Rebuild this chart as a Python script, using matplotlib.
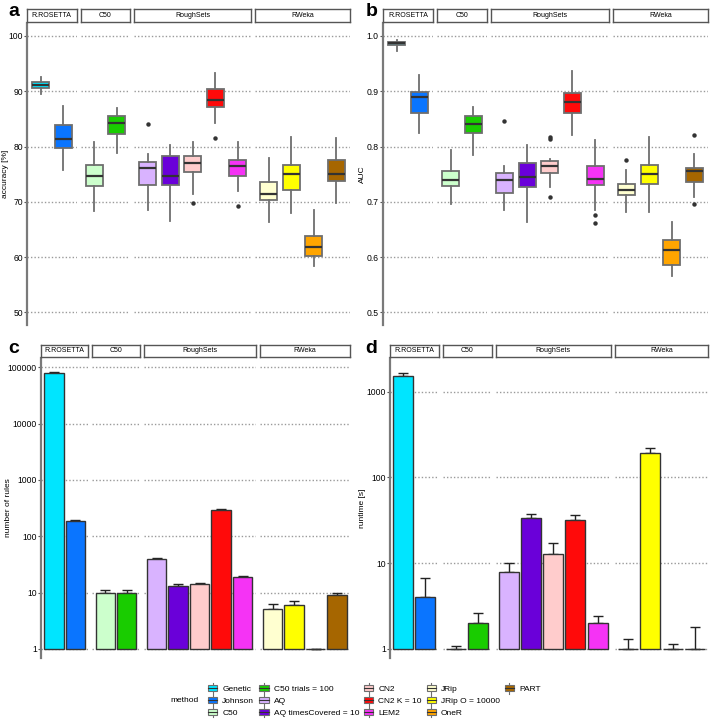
import matplotlib
matplotlib.use("Agg")
import matplotlib.pyplot as plt
from matplotlib.patches import Rectangle, Patch
from matplotlib.lines import Line2D
from matplotlib.legend_handler import HandlerBase
from matplotlib.ticker import FixedLocator, NullLocator

plt.rcParams["font.family"] = ["Liberation Sans", "DejaVu Sans"]

W, H = 712, 721

methods = ["Genetic", "Johnson", "C50", "C50 trials = 100", "AQ", "AQ timesCovered = 10",
           "CN2", "CN2 K = 10", "LEM2", "JRip", "JRip O = 10000", "OneR", "PART"]
colors = ["#00E5FF", "#0A75FF", "#CCFFCC", "#19CC00", "#D9B3FF", "#6A00D9",
          "#FFCCCC", "#FF0A0A", "#F533F5", "#FFFFD0", "#FFFF00", "#FFA500", "#A66600"]
facets = ["R.ROSETTA", "C50", "RoughSets", "RWeka"]
facet_of = [0, 0, 1, 1, 2, 2, 2, 2, 2, 3, 3, 3, 3]

# accuracy [%] box stats
acc_whislo = [89.5, 75.8, 68.4, 78.9, 68.5, 66.5, 71.4, 84.3, 72.0, 66.4, 67.9, 58.4, 69.8]
acc_q1 = [90.6, 79.8, 72.9, 82.3, 73.0, 73.1, 75.4, 87.1, 74.6, 70.3, 72.1, 60.2, 73.8]
acc_med = [91.1, 81.3, 74.7, 84.3, 76.1, 74.7, 77.0, 88.4, 76.4, 71.4, 75.0, 61.9, 75.0]
acc_q3 = [91.7, 83.9, 76.6, 85.5, 77.2, 78.2, 78.2, 90.4, 77.6, 73.5, 76.7, 63.8, 77.5]
acc_whishi = [92.5, 87.3, 80.9, 87.0, 78.6, 80.2, 80.9, 93.3, 80.9, 78.0, 81.7, 68.6, 81.5]
acc_fliers = [[], [], [], [], [84.1], [], [69.8], [81.6], [69.2], [], [], [], []]

# AUC box stats
auc_whislo = [0.973, 0.824, 0.696, 0.785, 0.686, 0.664, 0.726, 0.821, 0.685, 0.682, 0.682, 0.566, 0.709]
auc_q1 = [0.983, 0.861, 0.728, 0.824, 0.715, 0.727, 0.752, 0.861, 0.730, 0.712, 0.732, 0.586, 0.736]
auc_med = [0.987, 0.890, 0.739, 0.841, 0.739, 0.745, 0.765, 0.881, 0.741, 0.721, 0.751, 0.613, 0.755]
auc_q3 = [0.989, 0.899, 0.755, 0.855, 0.752, 0.771, 0.773, 0.897, 0.764, 0.733, 0.767, 0.631, 0.761]
auc_whishi = [0.993, 0.929, 0.793, 0.871, 0.764, 0.803, 0.778, 0.937, 0.811, 0.758, 0.818, 0.664, 0.786]
auc_fliers = [[], [], [], [], [0.847], [], [0.818, 0.813, 0.709], [], [0.676, 0.661],
              [0.776], [], [], [0.821, 0.696]]

# number of rules (mean, upper error end)
rules = [78000, 185, 10, 10, 40, 13, 14, 297, 19.2, 5.06, 5.96, 1, 8.97]
rules_err = [81000, 196, 11, 11, 42, 14, 15, 305, 20, 6.2, 7.0, 1, 9.7]

# runtime [s] (mean, upper error end)
runtime = [1510, 4.0, 1, 2.0, 8.0, 34, 12.9, 31.6, 2.0, 1, 191, 1, 1]
runtime_err = [1660, 6.8, 1.08, 2.6, 10, 38, 17.1, 36.8, 2.45, 1.3, 218, 1.13, 1.79]

EDGE = "#6e6e6e"
GRID = "#9a9a9a"


def fig_axes(fig, left, top, width, height):
    return fig.add_axes([left / W, 1 - (top + height) / H, width / W, height / H])


def make_panel(fig, x0, x1, top, bottom, strip_top, ylim, yticks, ylabels, ylabel, label_x,
               letter, letter_xy, log=False):
    gap = 4
    sizes = [facet_of.count(i) for i in range(len(facets))]
    units = [n + 0.2 for n in sizes]
    unit_px = (x1 - x0 - gap * (len(facets) - 1)) / sum(units)
    axes = []
    x = x0
    for i, name in enumerate(facets):
        w = units[i] * unit_px
        ax = fig_axes(fig, x, top, w, bottom - top)
        if log:
            ax.set_yscale("log")
        ax.set_ylim(*ylim)
        ax.set_xlim(-0.6, sizes[i] - 0.4)
        ax.yaxis.set_major_locator(FixedLocator(yticks))
        ax.yaxis.set_minor_locator(NullLocator())
        ax.set_xticks([])
        for yt in yticks:
            ax.axhline(yt, color=GRID, lw=1.0, ls=(0, (1, 1.5)), zorder=0)
        for s in ["top", "right", "bottom"]:
            ax.spines[s].set_visible(False)
        if i == 0:
            ax.spines["left"].set_color("#7a7a7a")
            ax.spines["left"].set_linewidth(1.6)
            ax.set_yticklabels(ylabels, fontsize=6.2)
            ax.tick_params(axis="y", length=2, width=0.8, color="#555555", pad=1)
        else:
            ax.spines["left"].set_visible(False)
            ax.tick_params(axis="y", left=False, labelleft=False)
        ax.patch.set_alpha(0)
        # strip
        sax = fig_axes(fig, x, strip_top, w, top - strip_top - 1)
        sax.set_xticks([])
        sax.set_yticks([])
        for s in sax.spines.values():
            s.set_color("#555555")
            s.set_linewidth(1.0)
        sax.text(0.5, 0.5, name, ha="center", va="center", fontsize=5, transform=sax.transAxes)
        axes.append(ax)
        x += w + gap
    fig.text(label_x / W, 1 - ((top + bottom) / 2) / H, ylabel, fontsize=6, rotation=90,
             ha="center", va="center")
    fig.text(letter_xy[0] / W, 1 - letter_xy[1] / H, letter, fontsize=14, fontweight="bold",
             ha="left", va="baseline")
    return axes


def draw_boxes(axes, whislo, q1, med, q3, whishi, fliers):
    for f, ax in enumerate(axes):
        idx = [i for i in range(len(methods)) if facet_of[i] == f]
        stats = [dict(whislo=whislo[i], q1=q1[i], med=med[i], q3=q3[i], whishi=whishi[i],
                      fliers=fliers[i]) for i in idx]
        res = ax.bxp(stats, positions=list(range(len(idx))), widths=0.75, patch_artist=True,
                     showcaps=False, manage_ticks=False,
                     boxprops=dict(edgecolor=EDGE, linewidth=1.3),
                     whiskerprops=dict(color=EDGE, linewidth=1.3),
                     medianprops=dict(color="#333333", linewidth=1.6),
                     flierprops=dict(marker="o", markerfacecolor="#333333",
                                     markeredgecolor="none", markersize=3.2))
        for patch, i in zip(res["boxes"], idx):
            patch.set_facecolor(colors[i])


def draw_bars(axes, values, upper):
    for f, ax in enumerate(axes):
        idx = [i for i in range(len(methods)) if facet_of[i] == f]
        pos = list(range(len(idx)))
        vals = [values[i] for i in idx]
        ups = [upper[i] - values[i] for i in idx]
        ax.errorbar(pos, vals, yerr=[[0] * len(idx), ups], fmt="none", ecolor="#222222",
                    elinewidth=1.0, capsize=3.5, capthick=1.0, zorder=1)
        ax.bar(pos, [v - 1 for v in vals], bottom=1, width=0.9,
               color=[colors[i] for i in idx], edgecolor="#333333", linewidth=1.0, zorder=2)


fig = plt.figure(figsize=(W / 100, H / 100), dpi=100)

ax_a = make_panel(fig, 27, 350, 23, 325, 9, (47.7, 102.35), [50, 60, 70, 80, 90, 100],
                  ["50", "60", "70", "80", "90", "100"], "accuracy [%]", 6, "a", (8, 16))
draw_boxes(ax_a, acc_whislo, acc_q1, acc_med, acc_q3, acc_whishi, acc_fliers)

ax_b = make_panel(fig, 383, 708, 23, 325, 9, (0.477, 1.0235), [0.5, 0.6, 0.7, 0.8, 0.9, 1.0],
                  ["0.5", "0.6", "0.7", "0.8", "0.9", "1.0"], "AUC", 362, "b", (366, 16))
draw_boxes(ax_b, auc_whislo, auc_q1, auc_med, auc_q3, auc_whishi, auc_fliers)

ax_c = make_panel(fig, 41, 350, 358, 658, 345, (10 ** -0.16, 10 ** 5.165),
                  [1, 10, 100, 1000, 10000, 100000],
                  ["1", "10", "100", "1000", "10000", "100000"], "number of rules", 9,
                  "c", (8, 353), log=True)
draw_bars(ax_c, rules, rules_err)

ax_d = make_panel(fig, 390, 708, 358, 658, 345, (10 ** -0.105, 10 ** 3.393),
                  [1, 10, 100, 1000], ["1", "10", "100", "1000"], "runtime [s]", 362,
                  "d", (365, 353), log=True)
draw_bars(ax_d, runtime, runtime_err)


class BoxKey(HandlerBase):
    def create_artists(self, legend, orig_handle, xdescent, ydescent, width, height, fontsize, trans):
        if orig_handle.get_label() == "":
            return [Rectangle((0, 0), 0, 0, visible=False, transform=trans)]
        cx = width / 2 - xdescent
        bw, bh = width, height * 0.9
        cy = height / 2 - ydescent
        line = Line2D([cx, cx], [cy - height * 0.85, cy + height * 0.85], color=EDGE, lw=0.8,
                      transform=trans)
        rect = Rectangle((cx - bw / 2, cy - bh / 2), bw, bh, facecolor=orig_handle.get_facecolor(),
                         edgecolor=EDGE, lw=0.8, transform=trans)
        mid = Line2D([cx - bw / 2, cx + bw / 2], [cy, cy], color="#333333", lw=0.8, transform=trans)
        return [line, rect, mid]


handles = [Patch(facecolor=c, label=m) for c, m in zip(colors, methods)]
handles += [Patch(facecolor="none", label=""), Patch(facecolor="none", label="")]
fig.legend(handles=handles, labels=[h.get_label() for h in handles], ncol=5,
           loc="center left", bbox_to_anchor=(204 / W, 1 - 701 / H), frameon=False, fontsize=6,
           handler_map={Patch: BoxKey()}, handlelength=1.1, handleheight=0.8, handletextpad=0.6,
           columnspacing=0.6, labelspacing=0.45, borderpad=0)
fig.text(199 / W, 1 - 701 / H, "method", fontsize=6, ha="right", va="center")

fig.savefig("out.png", dpi=100)
